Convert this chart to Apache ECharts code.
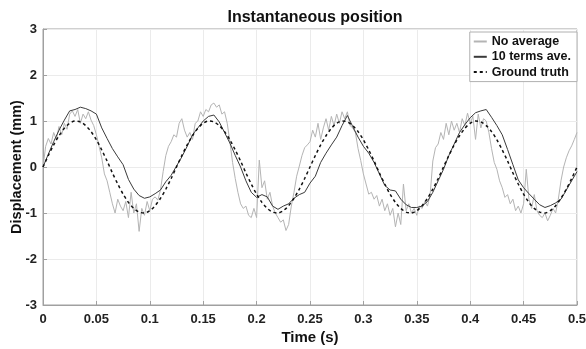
<!DOCTYPE html>
<html>
<head>
<meta charset="utf-8">
<script src="https://cdn.jsdelivr.net/npm/echarts@6/dist/echarts.min.js"></script>
<style>html,body{margin:0;padding:0;background:#fff}#c{width:586px;height:349px}</style>
</head>
<body>
<div id="c"></div>
<script>
const xTicks = [0, 0.05, 0.1, 0.15, 0.2, 0.25, 0.3, 0.35, 0.4, 0.45, 0.5];
const yTicks = [-3, -2, -1, 0, 1, 2, 3];
const seriesNames = ["No average", "10 terms ave.", "Ground truth"];

// No average (sampled every 0.0025 s from t = 0)
const rawStep = 0.0025;
const rawValues = [
 0.00,0.45,0.62,0.50,0.75,0.60,0.88,0.70,0.95,0.82,
 1.15,1.22,1.10,1.25,0.95,1.15,1.05,1.20,1.02,0.90,
 0.70,0.45,0.20,-0.15,-0.30,-0.55,-0.80,-1.00,-0.70,-0.85,
 -0.95,-0.75,-1.10,-0.55,-1.00,-0.80,-1.40,-0.90,-1.05,-0.75,
 -0.95,-0.70,-0.65,-0.72,-0.50,-0.10,0.25,0.45,0.55,0.70,
 0.65,0.95,1.05,0.80,0.65,0.75,0.60,0.95,1.00,1.20,
 1.10,1.25,1.20,1.35,1.39,1.30,1.35,1.15,1.20,0.95,
 0.55,0.10,-0.25,-0.55,-0.80,-0.90,-0.85,-1.05,-1.10,-0.90,
 -1.10,0.15,-0.45,-0.30,-0.70,-0.55,-0.85,-1.00,-1.10,-1.20,
 -1.15,-1.38,-1.25,-0.85,-0.55,-0.20,0.02,0.25,0.42,0.48,
 0.55,0.80,0.65,0.95,0.60,0.85,1.05,0.80,1.10,0.90,
 1.15,0.95,1.20,1.05,1.20,0.90,0.85,0.75,0.40,0.14,
 -0.15,-0.37,-0.59,-0.55,-0.70,-0.62,-0.85,-0.70,-0.95,-0.80,
 -1.05,-0.90,-1.30,-1.00,-1.25,-0.37,-0.95,-0.80,-1.00,-0.90,
 -1.05,-0.85,-0.90,-0.75,-0.85,-0.60,0.13,0.42,0.50,0.75,
 0.60,0.95,0.70,1.00,0.80,0.95,0.75,1.05,0.90,1.17,
 0.95,1.10,0.60,1.15,0.85,1.05,1.00,0.75,0.40,0.10,
 -0.05,-0.30,-0.45,-0.66,-0.60,-0.80,-0.70,-0.95,-0.85,-1.00,
 -0.80,-0.05,-0.70,-0.90,-0.60,-0.95,-1.05,-1.10,-1.00,-1.17,
 -1.05,-0.90,-1.00,-0.70,-0.30,0.00,0.20,0.35,0.46,0.60,
 0.75
];

// 10 terms ave. and ground truth (sampled every 0.005 s from t = 0)
const smoothStep = 0.005;
const avgValues = [
 0.00,0.28,0.55,0.80,1.02,1.22,1.25,1.30,1.27,1.22,
 1.15,0.85,0.62,0.40,0.22,0.05,-0.27,-0.48,-0.62,-0.68,
 -0.65,-0.58,-0.50,-0.32,-0.18,0.02,0.22,0.45,0.70,0.85,
 1.00,1.10,1.13,0.98,0.75,0.52,0.25,0.00,-0.30,-0.55,
 -0.66,-0.60,-0.65,-0.85,-0.92,-0.85,-0.80,-0.68,-0.60,-0.55,
 -0.35,-0.20,0.10,0.30,0.48,0.65,0.90,1.12,0.88,0.65,
 0.45,0.30,0.10,-0.15,-0.40,-0.50,-0.52,-0.70,-0.82,-0.88,
 -0.88,-0.85,-0.75,-0.55,-0.30,-0.05,0.25,0.50,0.75,0.92,
 1.07,1.18,1.22,1.25,1.08,0.90,0.70,0.38,0.05,-0.28,
 -0.45,-0.58,-0.70,-0.82,-0.88,-0.84,-0.78,-0.70,-0.50,-0.30,
 -0.10
];
const truthValues = [
 0.00,0.25,0.48,0.68,0.84,0.95,1.00,0.98,0.90,0.77,
 0.59,0.37,0.13,-0.13,-0.37,-0.59,-0.77,-0.90,-0.98,-1.00,
 -0.95,-0.84,-0.68,-0.48,-0.25,0.00,0.25,0.48,0.68,0.84,
 0.95,1.00,0.98,0.90,0.77,0.59,0.37,0.13,-0.13,-0.37,
 -0.59,-0.77,-0.90,-0.98,-1.00,-0.95,-0.84,-0.68,-0.48,-0.25,
 0.00,0.25,0.48,0.68,0.84,0.95,1.00,0.98,0.90,0.77,
 0.59,0.37,0.13,-0.13,-0.37,-0.59,-0.77,-0.90,-0.98,-1.00,
 -0.95,-0.84,-0.68,-0.48,-0.25,0.00,0.25,0.48,0.68,0.84,
 0.95,1.00,0.98,0.90,0.77,0.59,0.37,0.13,-0.13,-0.37,
 -0.59,-0.77,-0.90,-0.98,-1.00,-0.95,-0.84,-0.68,-0.48,-0.25,
 0.00
];

const toPairs = (vals, step) => vals.map((v, i) => [+(i * step).toFixed(4), v]);

const FONT = '"Liberation Sans", Arial, sans-serif';
const chart = echarts.init(document.getElementById('c'), null, {renderer: 'canvas'});
chart.setOption({
  animation: false,
  backgroundColor: '#fff',
  title: {
    text: 'Instantaneous position',
    left: 310, top: 5, textAlign: 'center',
    textStyle: {fontFamily: FONT, fontWeight: 'bold', fontSize: 16, color: '#111'}
  },
  grid: {left: 43, right: 9, top: 29, bottom: 44, containLabel: false, outerBoundsMode: 'none',
    show: true, borderColor: '#a0a0a0', borderWidth: 1, backgroundColor: 'transparent'},
  legend: {
    show: true,
    orient: 'vertical', right: 9, top: 32,
    backgroundColor: '#fff', borderColor: '#b0b0b0', borderWidth: 1,
    padding: [3, 6, 3, 3], itemGap: 2.3, itemWidth: 13, itemHeight: 14,
    itemStyle: {opacity: 0},
    textStyle: {fontFamily: FONT, fontWeight: 'bold', fontSize: 12.5, color: '#111'},
    data: seriesNames
  },
  xAxis: {
    type: 'value', min: 0, max: 0.5, interval: 0.05,
    name: 'Time (s)', nameLocation: 'middle', nameGap: 25, nameMoveOverlap: false,
    nameTextStyle: {fontFamily: FONT, fontWeight: 'bold', fontSize: 15, color: '#111'},
    axisLine: {show: true, onZero: false, lineStyle: {color: '#a0a0a0'}},
    axisTick: {show: true, inside: true, length: 4, lineStyle: {color: '#a0a0a0'}},
    axisLabel: {fontFamily: FONT, fontWeight: 'bold', fontSize: 13, color: '#222', margin: 8,
      formatter: v => { const t = xTicks.find(x => Math.abs(x - v) < 1e-9); return t === undefined ? '' : String(t); }},
    splitLine: {show: true, lineStyle: {color: '#ebebeb', width: 1}}
  },
  yAxis: {
    type: 'value', min: -3, max: 3, interval: 1,
    name: 'Displacement (mm)', nameLocation: 'middle', nameGap: 19, nameRotate: 90, nameMoveOverlap: false,
    nameTextStyle: {fontFamily: FONT, fontWeight: 'bold', fontSize: 14.5, color: '#111'},
    axisLine: {show: true, lineStyle: {color: '#a0a0a0'}},
    axisTick: {show: true, inside: true, length: 4, lineStyle: {color: '#a0a0a0'}},
    axisLabel: {fontFamily: FONT, fontWeight: 'bold', fontSize: 13, color: '#222', margin: 6,
      formatter: v => { const t = yTicks.find(y => Math.abs(y - v) < 1e-9); return t === undefined ? '' : String(t); }},
    splitLine: {show: true, lineStyle: {color: '#ebebeb', width: 1}}
  },
  series: [
    {name: seriesNames[0], type: 'line', data: toPairs(rawValues, rawStep), symbol: 'none',
      lineStyle: {color: '#b4b4b4', width: 1}, itemStyle: {color: '#b4b4b4'}, z: 1},
    {name: seriesNames[1], type: 'line', data: toPairs(avgValues, smoothStep), symbol: 'none',
      lineStyle: {color: '#3a3a3a', width: 1}, itemStyle: {color: '#3a3a3a'}, z: 2},
    {name: seriesNames[2], type: 'line', data: toPairs(truthValues, smoothStep), symbol: 'none', smooth: 0.3,
      lineStyle: {color: '#111', width: 1.5, type: [3, 3]}, itemStyle: {color: '#111'}, z: 3}
  ]
});
</script>
</body>
</html>
